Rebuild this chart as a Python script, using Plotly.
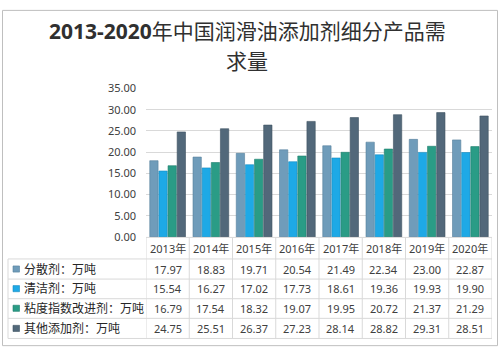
import plotly.graph_objects as go

years = ["2013年", "2014年", "2015年", "2016年", "2017年", "2018年", "2019年", "2020年"]
series_names = ["分散剂：万吨", "清洁剂：万吨", "粘度指数改进剂：万吨", "其他添加剂：万吨"]
fensan = [17.97, 18.83, 19.71, 20.54, 21.49, 22.34, 23.00, 22.87]
qingjie = [15.54, 16.27, 17.02, 17.73, 18.61, 19.36, 19.93, 19.90]
niandu = [16.79, 17.54, 18.32, 19.07, 19.95, 20.72, 21.37, 21.29]
qita = [24.75, 25.51, 26.37, 27.23, 28.14, 28.82, 29.31, 28.51]
y_ticks = [0, 5, 10, 15, 20, 25, 30, 35]

series_values = [fensan, qingjie, niandu, qita]
colors = ["#6f9cba", "#1ea9e6", "#2a9c86", "#52687a"]
edge = ["#557f9c", "#1489c0", "#1f7d6b", "#3e5262"]

W, H = 500, 356
FONT = "Noto Sans, Noto Sans CJK SC, sans-serif"
TXT = "#404040"
GRID = "#d9d9d9"

def px(x):
    return x / W

def py(y):
    return 1 - y / H

fig = go.Figure()
for name, vals, c, e in zip(series_names, series_values, colors, edge):
    fig.add_trace(go.Bar(x=years, y=vals, name=name, marker=dict(color=c, line=dict(color=e, width=0.6)),
                         showlegend=False))

fig.update_layout(
    width=W, height=H,
    margin=dict(l=0, r=0, t=0, b=0),
    paper_bgcolor="white", plot_bgcolor="white",
    barmode="group", bargap=0.155, bargroupgap=0.09,
    font=dict(family=FONT, color=TXT, size=11),
    xaxis=dict(domain=[px(146), px(492)], range=[-0.5, 7.5], showticklabels=False,
               showgrid=False, zeroline=False, showline=False, ticks=""),
    yaxis=dict(domain=[py(239), py(84)], range=[0, 35], tickvals=y_ticks,
               ticktext=[f"{v:.2f}" for v in y_ticks], showgrid=True, gridcolor=GRID,
               gridwidth=1, zeroline=False, showline=False, ticks="", ticklabelstandoff=9,
               tickfont=dict(size=11, color=TXT)),
)

shapes = []
# outer border
shapes.append(dict(type="rect", xref="paper", yref="paper", x0=px(2.5), x1=px(497.5), y0=py(352.5), y1=py(2.5),
                   line=dict(color="#bfbfbf", width=1)))
# table horizontal lines
shapes.append(dict(type="line", xref="paper", yref="paper", x0=px(146), x1=px(492), y0=py(239.5), y1=py(239.5),
                   line=dict(color=GRID, width=1)))
row_bounds = [262, 283, 303.5, 324, 345]
for yb in row_bounds:
    shapes.append(dict(type="line", xref="paper", yref="paper", x0=px(8), x1=px(492), y0=py(yb), y1=py(yb),
                       line=dict(color=GRID, width=1)))
# table vertical lines
shapes.append(dict(type="line", xref="paper", yref="paper", x0=px(8), x1=px(8), y0=py(262), y1=py(345),
                   line=dict(color=GRID, width=1)))
for k in range(len(years) + 1):
    shapes.append(dict(type="line", xref="x", yref="paper", x0=k - 0.5, x1=k - 0.5, y0=py(239.5), y1=py(345),
                       line=dict(color=GRID, width=1)))

annotations = []
# title
annotations.append(dict(text="<b>2013-2020</b>年中国润滑油添加剂细分产品需", xref="paper", yref="paper",
                        x=px(247), y=py(24), xanchor="center", yanchor="middle", showarrow=False,
                        font=dict(size=21, color="#303030", family=FONT)))
annotations.append(dict(text="求量", xref="paper", yref="paper",
                        x=px(247), y=py(55), xanchor="center", yanchor="middle", showarrow=False,
                        font=dict(size=21, color="#303030", family=FONT)))
# header years
for yr in years:
    annotations.append(dict(text=yr, xref="x", yref="paper", x=yr, y=py(251), xanchor="center",
                            yanchor="middle", showarrow=False, font=dict(size=11, color=TXT)))
row_centers = [272.5, 293, 313.5, 334.5]
for name, vals, c, e, yc in zip(series_names, series_values, colors, edge, row_centers):
    shapes.append(dict(type="rect", xref="paper", yref="paper", x0=px(13), x1=px(19.5), y0=py(yc + 3.2),
                       y1=py(yc - 3.2), fillcolor=c, line=dict(color=e, width=0.6)))
    annotations.append(dict(text=name, xref="paper", yref="paper", x=px(21.5), y=py(yc), xanchor="left",
                            yanchor="middle", showarrow=False, font=dict(size=12, color="#262626")))
    for yr, v in zip(years, vals):
        annotations.append(dict(text=f"{v:.2f}", xref="x", yref="paper", x=yr, y=py(yc), xanchor="center",
                                yanchor="middle", showarrow=False, font=dict(size=11, color=TXT)))

fig.update_layout(shapes=shapes, annotations=annotations)
fig.write_html("out.html", config={"displayModeBar": False},
               post_script="document.body.style.margin='0';document.body.style.overflow='hidden';")
